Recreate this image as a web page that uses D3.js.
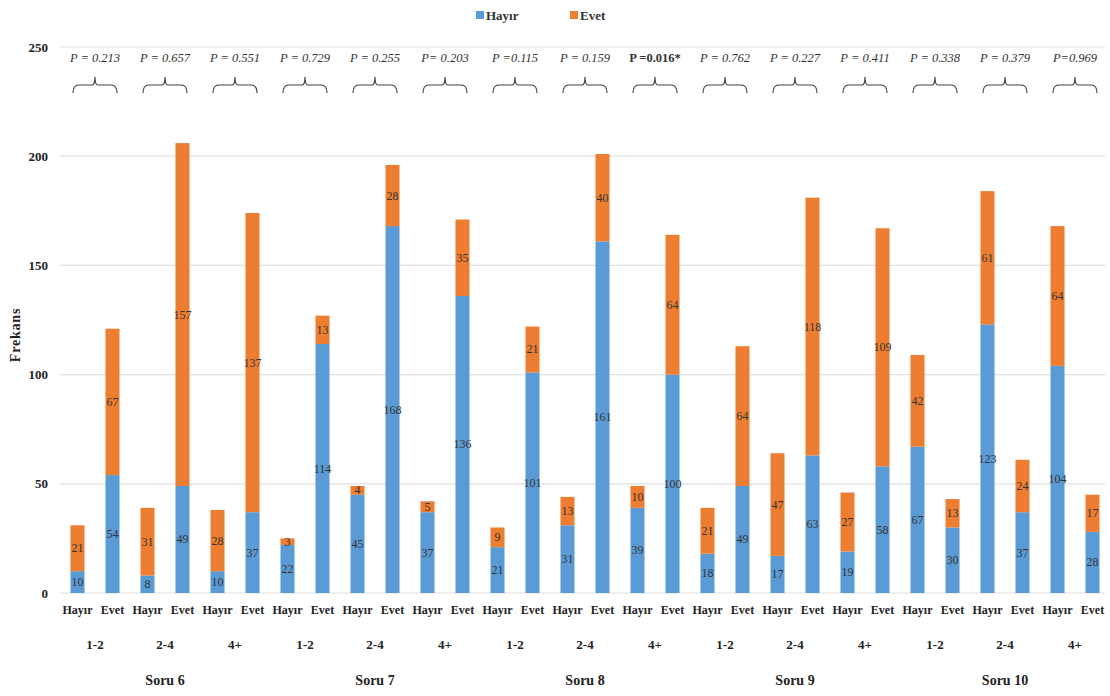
<!DOCTYPE html>
<html>
<head>
<meta charset="utf-8">
<script src="https://cdn.jsdelivr.net/npm/d3@7"></script>
<style>
  body { margin: 0; background: #fff; }
  svg text { font-family: "Liberation Serif", "Times New Roman", "DejaVu Serif", serif; }
</style>
</head>
<body>
<div id="chart"></div>
<script>
const questions = ["Soru 6", "Soru 7", "Soru 8", "Soru 9", "Soru 10"];
const groups = ["1-2", "2-4", "4+"];
const answers = ["Hayır", "Evet"];
const seriesNames = ["Hayır", "Evet"];

// one value per bar, in order question > group > answer
const hayirValues = [10, 54, 8, 49, 10, 37,
                     22, 114, 45, 168, 37, 136,
                     21, 101, 31, 161, 39, 100,
                     18, 49, 17, 63, 19, 58,
                     67, 30, 123, 37, 104, 28];
const evetValues = [21, 67, 31, 157, 28, 137,
                    3, 13, 4, 28, 5, 35,
                    9, 21, 13, 40, 10, 64,
                    21, 64, 47, 118, 27, 109,
                    42, 13, 61, 24, 64, 17];

const pLabels = ["P = 0.213", "P = 0.657", "P = 0.551", "P = 0.729", "P = 0.255",
                 "P= 0.203", "P =0.115", "P = 0.159", "P =0.016*", "P = 0.762",
                 "P = 0.227", "P = 0.411", "P = 0.338", "P = 0.379", "P=0.969"];
const pSignificant = [false, false, false, false, false, false, false, false, true,
                      false, false, false, false, false, false];

const yTicks = [0, 50, 100, 150, 200, 250];

const colors = { "Hayır": "#5b9bd5", "Evet": "#ed7d31" };

const width = 1110, height = 696;
const margin = { top: 47, right: 0, bottom: 103, left: 60 };
const serif = "Liberation Serif, Times New Roman, serif";

const bars = [];
questions.forEach((q, qi) => {
    groups.forEach((g, gi) => {
        answers.forEach((a, ai) => {
            const i = qi * 6 + gi * 2 + ai;
            bars.push({ key: i, question: q, group: g, answer: a,
                        hayir: hayirValues[i], evet: evetValues[i] });
        });
    });
});

const svg = d3.select("#chart").append("svg")
    .attr("width", width)
    .attr("height", height)
    .attr("font-family", serif);

const x = d3.scaleBand()
    .domain(bars.map(d => d.key))
    .range([margin.left, width - margin.right])
    .paddingInner(0.6)
    .paddingOuter(0.3);

const y = d3.scaleLinear()
    .domain([0, 250])
    .range([height - margin.bottom, margin.top]);

// gridlines
svg.append("g")
    .selectAll("line")
    .data(yTicks)
    .join("line")
    .attr("x1", margin.left)
    .attr("x2", width - 5)
    .attr("y1", d => y(d))
    .attr("y2", d => y(d))
    .attr("stroke", "#e0e0e0")
    .attr("stroke-width", 1.2);

// y axis
const yAxis = d3.axisLeft(y).tickValues(yTicks).tickSize(0).tickPadding(0);
svg.append("g")
    .attr("transform", `translate(${margin.left - 12},0)`)
    .call(yAxis)
    .attr("font-family", serif)
    .call(g => g.select(".domain").remove())
    .selectAll("text")
    .attr("font-size", 13)
    .attr("font-weight", "bold")
    .attr("fill", "#222");

svg.append("text")
    .attr("transform", `translate(20,${(margin.top + height - margin.bottom) / 2 + 15}) rotate(-90)`)
    .attr("text-anchor", "middle")
    .attr("font-size", 14)
    .attr("font-weight", "bold")
    .attr("letter-spacing", 0.8)
    .attr("fill", "#222")
    .text("Frekans");

// stacked bars
const stack = d3.stack().keys(["hayir", "evet"]);
const stacked = stack(bars);

const layers = svg.append("g")
    .selectAll("g")
    .data(stacked)
    .join("g")
    .attr("fill", (d, i) => colors[seriesNames[i]]);

layers.selectAll("rect")
    .data(d => d)
    .join("rect")
    .attr("x", d => x(d.data.key))
    .attr("y", d => y(d[1]))
    .attr("width", x.bandwidth())
    .attr("height", d => y(d[0]) - y(d[1]));

layers.selectAll("text")
    .data(d => d)
    .join("text")
    .attr("x", d => x(d.data.key) + x.bandwidth() / 2)
    .attr("y", d => (y(d[0]) + y(d[1])) / 2 + 4)
    .attr("text-anchor", "middle")
    .attr("font-size", 12)
    .attr("fill", "#333")
    .text(d => d[1] - d[0]);

// bottom labels
const baseY = height - margin.bottom;
svg.append("g")
    .selectAll("text")
    .data(bars)
    .join("text")
    .attr("x", d => x(d.key) + x.bandwidth() / 2)
    .attr("y", baseY + 21)
    .attr("text-anchor", "middle")
    .attr("font-size", 12)
    .attr("font-weight", "bold")
    .attr("fill", "#222")
    .text(d => d.answer);

const groupData = bars.filter(d => d.answer === "Hayır");
const groupCenter = d => (x(d.key) + x(d.key + 1) + x.bandwidth()) / 2;

svg.append("g")
    .selectAll("text")
    .data(groupData)
    .join("text")
    .attr("x", groupCenter)
    .attr("y", baseY + 56)
    .attr("text-anchor", "middle")
    .attr("font-size", 13)
    .attr("font-weight", "bold")
    .attr("fill", "#222")
    .text(d => d.group);

svg.append("g")
    .selectAll("text")
    .data(questions)
    .join("text")
    .attr("x", (d, i) => (x(i * 6) + x(i * 6 + 5) + x.bandwidth()) / 2)
    .attr("y", baseY + 92)
    .attr("text-anchor", "middle")
    .attr("font-size", 14)
    .attr("font-weight", "bold")
    .attr("fill", "#222")
    .text(d => d);

// p-values and braces
const pGroup = svg.append("g")
    .selectAll("g")
    .data(groupData)
    .join("g")
    .attr("transform", d => `translate(${groupCenter(d)},0)`);

pGroup.append("text")
    .attr("y", 62)
    .attr("text-anchor", "middle")
    .attr("font-size", 12.5)
    .attr("font-style", (d, i) => pSignificant[i] ? "normal" : "italic")
    .attr("font-weight", (d, i) => pSignificant[i] ? "bold" : "normal")
    .attr("fill", "#333")
    .text((d, i) => pLabels[i]);

pGroup.append("path")
    .attr("d", () => {
        const w = 22;
        return `M${-w},93 Q${-w},85 ${-w + 6},85 L-3,85 Q0,85 0,77 Q0,85 3,85 L${w - 6},85 Q${w},85 ${w},93`;
    })
    .attr("fill", "none")
    .attr("stroke", "#444")
    .attr("stroke-width", 1.2);

// legend
const legend = svg.append("g")
    .attr("transform", "translate(476,15)");
const legendItems = legend.selectAll("g")
    .data(seriesNames)
    .join("g")
    .attr("transform", (d, i) => `translate(${i * 94},0)`);
legendItems.append("rect")
    .attr("x", 0)
    .attr("y", -4)
    .attr("width", 8)
    .attr("height", 8)
    .attr("fill", d => colors[d]);
legendItems.append("text")
    .attr("x", 10)
    .attr("y", 5)
    .attr("font-size", 13)
    .attr("font-weight", "bold")
    .attr("fill", "#333")
    .text(d => d);
</script>
</body>
</html>
